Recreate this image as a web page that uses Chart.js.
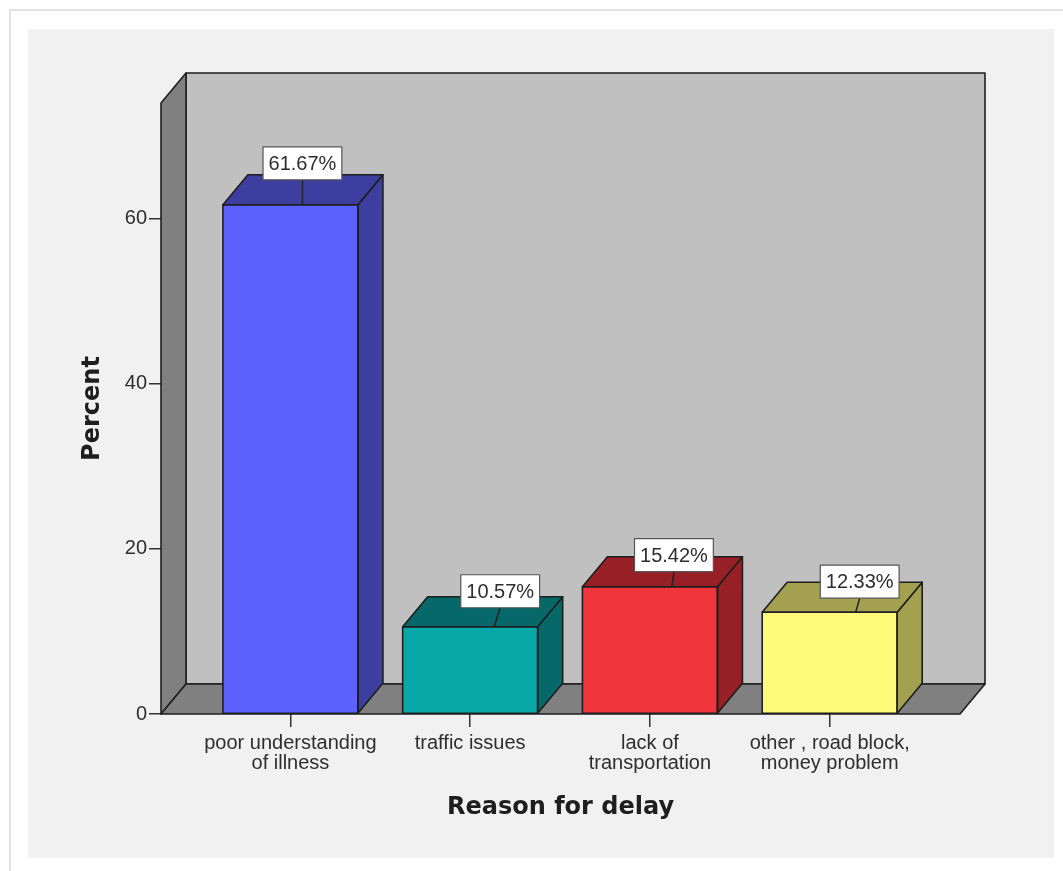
<!DOCTYPE html>
<html>
<head>
<meta charset="utf-8">
<title>Reason for delay</title>
<script src="https://cdn.jsdelivr.net/npm/chart.js@4/dist/chart.umd.min.js"></script>
<style>
  html, body { margin: 0; padding: 0; background: #ffffff; }
  body { width: 1063px; height: 871px; position: relative; overflow: hidden; }
  #frame { position: absolute; left: 9px; top: 9px; width: 1200px; height: 1000px;
           border-top: 2px solid #e3e3e3; border-left: 2px solid #e3e3e3; }
  #panel { position: absolute; left: 28px; top: 29px; width: 1026px; height: 829px; background: #f1f1f1; }
  #chart { position: absolute; left: 0; top: 0; }
</style>
</head>
<body>
<div id="frame"></div>
<div id="panel"></div>
<canvas id="chart" width="1063" height="871"></canvas>
<script>
// Categories (x axis), one multi-line label per bar
const categories = [
  ['poor understanding', 'of illness'],
  ['traffic issues'],
  ['lack of', 'transportation'],
  ['other , road block,', 'money problem']
];
// Percent of respondents per reason
const percentValues = [61.67, 10.57, 15.42, 12.33];
// Y axis ticks and range
const yTickValues = [0, 20, 40, 60];
const yMax = 74;

// Styling: front face colours and the darker shade used on top/side faces
const frontColors = ['#5d62fe', '#07a9a8', '#f0353d', '#fefa7a'];
const shadeColors = ['#3c3fa0', '#066868', '#962025', '#a3a14f'];
// Value-label placement relative to each bar (px)
const labelShiftX = [12, 30, 24, 30];
const labelGap = [25, 19, 15, 14];
const leaderLean = [0, 6, 2, 4];

const DEPTH_X = 25, DEPTH_Y = -30;
const EDGE = '#1e1e1e';
const SANS = '"Liberation Sans", Arial, sans-serif';
const TITLE_FONT = '"DejaVu Sans", Verdana, sans-serif';

function poly(ctx, pts, fill) {
  ctx.beginPath();
  ctx.moveTo(pts[0][0], pts[0][1]);
  for (let k = 1; k < pts.length; k++) ctx.lineTo(pts[k][0], pts[k][1]);
  ctx.closePath();
  ctx.fillStyle = fill;
  ctx.fill();
  ctx.stroke();
}

// Draws the 3D box (walls, floor), bar depth faces and value call-outs
const box3d = {
  id: 'box3d',
  beforeDatasetsDraw(chart) {
    const { ctx, chartArea: a } = chart;
    const L = a.left, R = a.right, T = a.top, B = a.bottom;
    const dx = DEPTH_X, dy = DEPTH_Y;
    ctx.save();
    ctx.strokeStyle = EDGE;
    ctx.lineWidth = 1.6;
    ctx.lineJoin = 'round';
    poly(ctx, [[L + dx, B + dy], [L + dx, T + dy], [R + dx, T + dy], [R + dx, B + dy]], '#c0c0c0');
    poly(ctx, [[L, B], [L, T], [L + dx, T + dy], [L + dx, B + dy]], '#808080');
    poly(ctx, [[L, B], [R, B], [R + dx, B + dy], [L + dx, B + dy]], '#808080');
    ctx.restore();
  },
  afterDatasetsDraw(chart) {
    const { ctx } = chart;
    const meta = chart.getDatasetMeta(0);
    const dx = DEPTH_X, dy = DEPTH_Y;
    ctx.save();
    ctx.lineJoin = 'round';
    meta.data.forEach((bar, i) => {
      const { x, y, base, width } = bar.getProps(['x', 'y', 'base', 'width'], true);
      const x0 = x - width / 2, x1 = x + width / 2;
      ctx.strokeStyle = EDGE;
      ctx.lineWidth = 1.6;
      poly(ctx, [[x1, base], [x1, y], [x1 + dx, y + dy], [x1 + dx, base + dy]], shadeColors[i]);
      poly(ctx, [[x0, y], [x0 + dx, y + dy], [x1 + dx, y + dy], [x1, y]], shadeColors[i]);
      ctx.beginPath();
      ctx.rect(x0, y, width, base - y);
      ctx.stroke();
    });
    // value call-outs
    ctx.font = '20px ' + SANS;
    meta.data.forEach((bar, i) => {
      const { x, y } = bar.getProps(['x', 'y'], true);
      const text = percentValues[i].toFixed(2) + '%';
      const w = ctx.measureText(text).width + 11;
      const h = 33;
      const cx = x + labelShiftX[i];
      const bottom = y - labelGap[i];
      const top = bottom - h;
      ctx.strokeStyle = '#222';
      ctx.lineWidth = 1.5;
      ctx.beginPath();
      ctx.moveTo(cx, bottom);
      ctx.lineTo(cx - leaderLean[i], y);
      ctx.stroke();
      ctx.fillStyle = '#ffffff';
      ctx.fillRect(cx - w / 2, top, w, h);
      ctx.strokeStyle = '#555';
      ctx.lineWidth = 1.2;
      ctx.strokeRect(cx - w / 2, top, w, h);
      ctx.fillStyle = '#2e2e2e';
      ctx.textAlign = 'center';
      ctx.textBaseline = 'middle';
      ctx.fillText(text, cx, top + h / 2 + 1);
    });
    ctx.restore();
  }
};

new Chart(document.getElementById('chart'), {
  type: 'bar',
  data: {
    datasets: [{
      data: percentValues.map((v, i) => ({ x: i, y: v })),
      backgroundColor: frontColors,
      borderColor: EDGE,
      borderWidth: 0,
      borderSkipped: false,
      barThickness: 135
    }]
  },
  options: {
    responsive: false,
    animation: false,
    layout: { padding: { left: 28, top: 103, right: 103, bottom: 13 } },
    plugins: { legend: { display: false }, tooltip: { enabled: false } },
    scales: {
      x: {
        type: 'linear',
        offset: false,
        min: -0.72,
        max: 3.725,
        afterBuildTicks: (scale) => { scale.ticks = categories.map((_, i) => ({ value: i })); },
        afterFit: (scale) => { scale.height = 144; },
        border: { display: false },
        grid: { display: true, offset: false, drawOnChartArea: false, drawTicks: true, tickLength: 13, color: '#333', lineWidth: 1.5 },
        ticks: {
          autoSkip: false,
          maxRotation: 0,
          padding: 7,
          color: '#2e2e2e',
          font: { family: SANS, size: 20, lineHeight: 0.98 },
          callback: (value) => categories[value]
        },
        title: {
          display: true,
          text: 'Reason for delay',
          color: '#1e1e1e',
          font: { family: TITLE_FONT, size: 24, weight: 'bold', lineHeight: 1.2 },
          padding: { top: 0, bottom: 36 }
        }
      },
      y: {
        min: 0,
        max: yMax,
        afterBuildTicks: (scale) => { scale.ticks = yTickValues.map(v => ({ value: v })); },
        afterFit: (scale) => { scale.width = 133; },
        border: { display: false },
        grid: { display: true, drawOnChartArea: false, drawTicks: true, tickLength: 12, color: '#333', lineWidth: 1.5 },
        ticks: {
          padding: 2,
          color: '#2e2e2e',
          font: { family: SANS, size: 20 }
        },
        title: {
          display: true,
          text: 'Percent',
          color: '#1e1e1e',
          font: { family: TITLE_FONT, size: 24, weight: 'bold', lineHeight: 1.2 },
          padding: { top: 50.6, bottom: 0 }
        }
      }
    }
  },
  plugins: [box3d]
});
</script>
</body>
</html>
